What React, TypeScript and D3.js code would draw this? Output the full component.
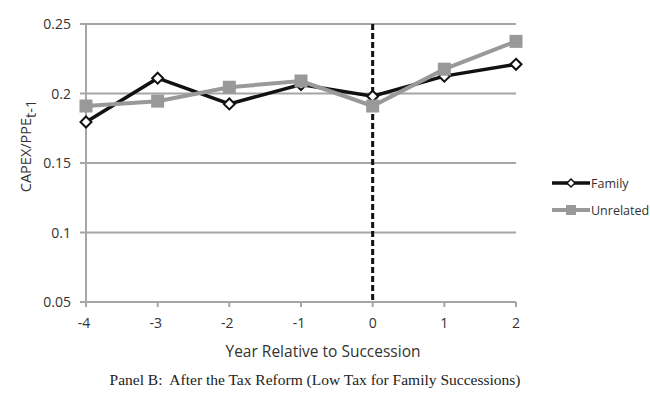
import React from "react";
import * as d3 from "d3";

const years = [-4, -3, -2, -1, 0, 1, 2];
const familyValues = [0.1795, 0.211, 0.1925, 0.2065, 0.198, 0.2125, 0.221];
const unrelatedValues = [0.191, 0.1945, 0.2045, 0.209, 0.191, 0.2175, 0.2375];
const yTicks = [0.05, 0.1, 0.15, 0.2, 0.25];
const seriesNames = ["Family", "Unrelated"];

const W = 650;
const H = 397;
const left = 86;
const right = 516;
const top = 24;
const bottom = 302;

const sans = "'Open Sans', 'Liberation Sans', sans-serif";

export default function App() {
  const x = d3.scalePoint<number>().domain(years).range([left, right]);
  const y = d3.scaleLinear().domain([0.05, 0.25]).range([bottom, top]);

  const line = d3
    .line<number>()
    .x((_, i) => x(years[i]) as number)
    .y((d) => y(d));

  const diamond = (cx: number, cy: number, r = 5.5) =>
    `M${cx},${cy - r}L${cx + r},${cy}L${cx},${cy + r}L${cx - r},${cy}Z`;

  const gridColor = "#a6a6a6";
  const famColor = "#111";
  const unrColor = "#999999";

  return (
    <svg
      width={W}
      height={H}
      style={{ position: "absolute", left: 0, top: 0, background: "#fff" }}
    >
      {/* gridlines */}
      {yTicks.map((t) => (
        <g key={t}>
          <line
            x1={left - 6}
            x2={right}
            y1={y(t)}
            y2={y(t)}
            stroke={gridColor}
            strokeWidth={2}
          />
          <text
            x={71}
            y={y(t) + 5}
            textAnchor="end"
            fontFamily={sans}
            fontSize={14}
            fill="#333"
          >
            {String(t)}
          </text>
        </g>
      ))}
      {/* y axis line */}
      <line x1={left} x2={left} y1={top} y2={bottom} stroke={gridColor} strokeWidth={2} />
      {/* x ticks */}
      {years.map((yr) => (
        <g key={yr}>
          <line
            x1={x(yr)}
            x2={x(yr)}
            y1={bottom}
            y2={bottom + 5}
            stroke={gridColor}
            strokeWidth={2}
          />
          <text
            x={(x(yr) as number) + (yr < 0 ? -2 : 0)}
            y={bottom + 26}
            textAnchor="middle"
            fontFamily={sans}
            fontSize={14}
            fill="#333"
          >
            {yr}
          </text>
        </g>
      ))}
      {/* succession line */}
      <line
        x1={x(0)}
        x2={x(0)}
        y1={top}
        y2={bottom}
        stroke="#111"
        strokeWidth={3}
        strokeDasharray="6,3"
      />
      {/* family series */}
      <path d={line(familyValues) || ""} fill="none" stroke={famColor} strokeWidth={3.5} />
      {familyValues.map((v, i) => (
        <path
          key={"f" + i}
          d={diamond(x(years[i]) as number, y(v))}
          fill="#fff"
          stroke={famColor}
          strokeWidth={2}
        />
      ))}
      {/* unrelated series */}
      <path d={line(unrelatedValues) || ""} fill="none" stroke={unrColor} strokeWidth={4} />
      {unrelatedValues.map((v, i) => (
        <rect
          key={"u" + i}
          x={(x(years[i]) as number) - 6.5}
          y={y(v) - 6.5}
          width={13}
          height={13}
          fill={unrColor}
        />
      ))}
      {/* legend */}
      <g>
        <line x1={552} x2={590} y1={183} y2={183} stroke={famColor} strokeWidth={3.5} />
        <path d={diamond(571, 183, 4)} fill="#fff" stroke={famColor} strokeWidth={1.5} />
        <text x={591} y={187.5} fontFamily={sans} fontSize={12.5} fill="#333">
          {seriesNames[0]}
        </text>
        <line x1={552} x2={590} y1={210} y2={210} stroke={unrColor} strokeWidth={4} />
        <rect x={566} y={205} width={10} height={10} fill={unrColor} />
        <text x={591} y={214.5} fontFamily={sans} fontSize={12.5} fill="#333">
          {seriesNames[1]}
        </text>
      </g>
      {/* axis titles */}
      <text
        transform="translate(31,146) rotate(-90)"
        textAnchor="middle"
        fontFamily={sans}
        fontSize={14.5}
        fill="#333"
      >
        CAPEX/PPE
        <tspan fontSize={14.5} dy={5}>
          t-1
        </tspan>
      </text>
      <text
        x={323}
        y={357}
        textAnchor="middle"
        fontFamily={sans}
        fontSize={15.5}
        fill="#333"
      >
        Year Relative to Succession
      </text>
      <text
        x={315}
        y={385}
        textAnchor="middle"
        fontFamily="'Liberation Serif', 'Times New Roman', serif"
        fontSize={15.5}
        fill="#222"
        style={{ whiteSpace: "pre" }}
      >
        {"Panel B:  After the Tax Reform (Low Tax for Family Successions)"}
      </text>
    </svg>
  );
}
